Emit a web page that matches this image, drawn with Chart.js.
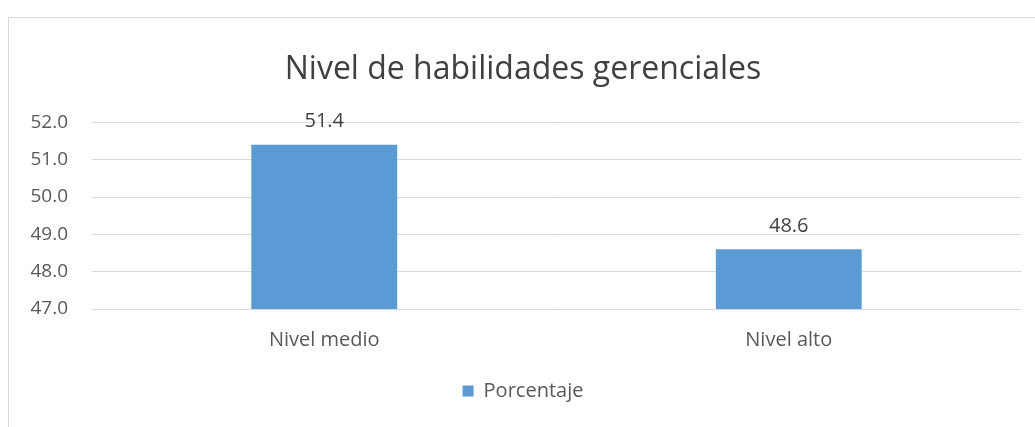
<!DOCTYPE html>
<html>
<head>
<meta charset="utf-8">
<script src="https://cdn.jsdelivr.net/npm/chart.js@4"></script>
<style>
  body { margin: 0; background: #fff; overflow: hidden; }
  #box { position: absolute; left: 8px; top: 17px; width: 1027px; height: 410px; overflow: hidden;
         border-top: 1px solid #d9d9d9; border-left: 1px solid #d9d9d9; }
  #myChart { display: block; }
</style>
</head>
<body>
<div id="box"><canvas id="myChart" width="1046" height="409"></canvas></div>
<script>
var categories = ['Nivel medio', 'Nivel alto'];
var porcentaje = [51.4, 48.6];
var yTicks = [47, 48, 49, 50, 51, 52];

var barColor = '#5b9bd5';
var textColor = '#595959';
var fontFam = '"Open Sans", sans-serif';

// draws the value above each bar
var valueLabels = {
  id: 'valueLabels',
  afterDatasetsDraw: function (chart) {
    var c = chart.ctx;
    var meta = chart.getDatasetMeta(0);
    c.save();
    c.font = '20px ' + fontFam;
    c.fillStyle = '#404040';
    c.textAlign = 'center';
    c.textBaseline = 'bottom';
    meta.data.forEach(function (bar, i) {
      c.fillText(porcentaje[i].toFixed(1), bar.x, bar.y - 13);
    });
    c.restore();
  }
};

const ctx = document.getElementById('myChart');

const chart = new Chart(ctx, {
  type: 'bar',
  data: {
    labels: categories,
    datasets: [{
      label: 'Porcentaje',
      data: porcentaje,
      backgroundColor: barColor,
      categoryPercentage: 1,
      barPercentage: 0.314
    }]
  },
  options: {
    responsive: false,
    animation: false,
    layout: { padding: { top: 0, right: 34, bottom: 16, left: 16 } },
    plugins: {
      title: {
        display: true,
        text: 'Nivel de habilidades gerenciales',
        color: '#404040',
        font: { family: fontFam, size: 32, weight: 'normal' },
        padding: { top: 33, bottom: 33 }
      },
      legend: {
        position: 'bottom',
        labels: {
          color: textColor,
          font: { family: fontFam, size: 20 },
          boxWidth: 11,
          boxHeight: 11,
          padding: 10
        }
      },
      tooltip: { enabled: false }
    },
    scales: {
      x: {
        grid: { display: false, drawTicks: false },
        border: { display: false },
        ticks: { color: textColor, font: { family: fontFam, size: 20 }, padding: 19 }
      },
      y: {
        min: 47,
        max: 52,
        afterBuildTicks: function (axis) {
          axis.ticks = yTicks.map(function (v) { return { value: v }; });
        },
        afterFit: function (axis) { axis.width = 67; },
        grid: { color: '#d9d9d9', drawTicks: false },
        border: { display: false },
        ticks: {
          color: textColor,
          font: { family: fontFam, size: 19 },
          padding: 24,
          callback: function (v) { return Number(v).toFixed(1); }
        }
      }
    }
  },
  plugins: [valueLabels]
});
</script>
</body>
</html>
